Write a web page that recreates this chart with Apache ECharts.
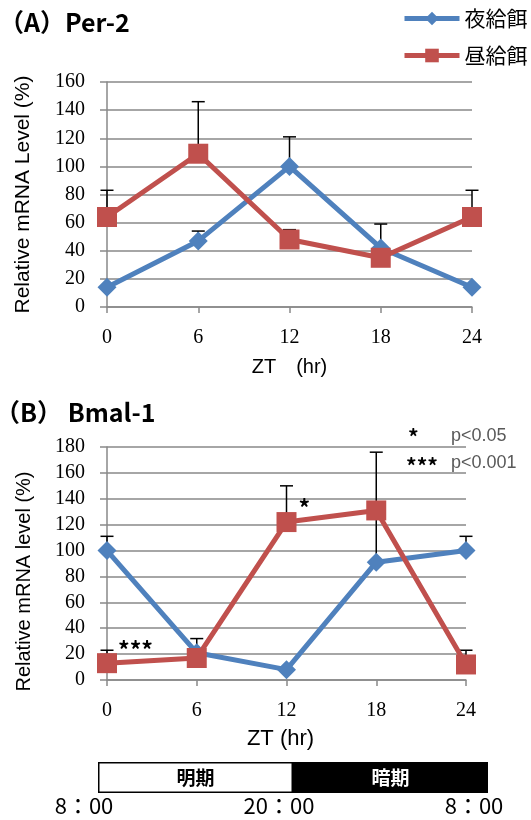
<!DOCTYPE html>
<html>
<head>
<meta charset="utf-8">
<script src="https://cdn.jsdelivr.net/npm/echarts@6/dist/echarts.min.js"></script>
<style>
html,body{margin:0;padding:0;background:#fff;}
#chart{width:531px;height:820px;}
</style>
</head>
<body>
<div id="chart"></div>
<script>
// ---- data ----
const ztHours = [0, 6, 12, 18, 24];
const seriesNames = ['夜給餌', '昼給餌'];
// (A) Per-2
const per2Night = [14, 47, 100, 42, 14];
const per2Day = [64, 109, 48, 35, 64];
const per2NightErr = [0, 7, 21, 17, 0];
const per2DayErr = [19, 37, 7, 0, 19];
// (B) Bmal-1
const bmalNight = [100, 21, 8, 91, 100];
const bmalDay = [13, 17, 122, 131, 12];
const bmalNightErr = [11, 11, 0, 40, 11];
const bmalDayErr = [10, 0, 28, 45, 11];
const bmalDaySig = ['***', '', '*', '', ''];
// light / dark phases
const phaseNames = ['明期', '暗期'];
const phaseHours = [12, 12];
const timeLabels = ['8：00', '20：00', '8：00'];
const yTicksA = {min: 0, max: 160, interval: 20};
const yTicksB = {min: 0, max: 180, interval: 20};

const BLUE = '#4F81BD', RED = '#C0504D', GRID = '#898989';
const SERIF = '"Liberation Serif", "DejaVu Serif", serif';
const SANS = '"Liberation Sans", Arial, sans-serif';
const CJK = '"Noto Sans CJK JP", "Noto Sans", sans-serif';

function pairs(vals) { return vals.map((v, i) => [ztHours[i], v]); }
function errData(vals, errs) {
  return vals.map((v, i) => [ztHours[i], v, v + errs[i]]).filter((d, i) => errs[i] > 0);
}
function errRender(params, api) {
  const x = api.value(0), y = api.value(1), top = api.value(2);
  const p0 = api.coord([x, y]), p1 = api.coord([x, top]);
  const st = {stroke: '#000', lineWidth: 1.5};
  return {type: 'group', children: [
    {type: 'line', shape: {x1: p0[0], y1: p0[1], x2: p1[0], y2: p1[1]}, style: st},
    {type: 'line', shape: {x1: p1[0] - 6.5, y1: p1[1], x2: p1[0] + 6.5, y2: p1[1]}, style: st}
  ]};
}

function xAxisFor(idx, name, gap, fs, pad) {
  return {
    type: 'value', gridIndex: idx, min: 0, max: 24, interval: 6,
    name: name, nameLocation: 'middle', nameGap: gap,
    nameTextStyle: {fontFamily: SANS, fontSize: fs, color: '#000', padding: pad},
    axisLine: {show: true, lineStyle: {color: GRID, width: 1.5}},
    axisTick: {show: true, length: 6, lineStyle: {color: GRID, width: 1.5}},
    axisLabel: {fontFamily: SERIF, fontSize: 20, color: '#000', margin: 21},
    splitLine: {show: false}
  };
}
function yAxisFor(idx, ticks, name, fs, pad) {
  return {
    type: 'value', gridIndex: idx, min: ticks.min, max: ticks.max, interval: ticks.interval,
    name: name, nameLocation: 'middle', nameGap: 73, nameRotate: 90,
    nameTextStyle: {fontFamily: SANS, fontSize: fs, color: '#000', padding: pad},
    axisLine: {show: true, lineStyle: {color: GRID, width: 1.5}},
    axisTick: {show: true, length: 7, lineStyle: {color: GRID, width: 1.5}},
    axisLabel: {fontFamily: SERIF, fontSize: 20, color: '#000', margin: 22},
    splitLine: {show: true, lineStyle: {color: GRID, width: 1.5}}
  };
}
function lineSeries(name, data, xi, color, symbol, size, z) {
  return {
    type: 'line', name: name, xAxisIndex: xi, yAxisIndex: xi, data: data,
    symbol: symbol, symbolSize: size, z: z,
    lineStyle: {color: color, width: 5}, itemStyle: {color: color},
    animation: false
  };
}

const bmalDayData = bmalDay.map((v, i) => {
  const item = {value: [ztHours[i], v]};
  if (bmalDaySig[i]) {
    item.label = {show: true, formatter: bmalDaySig[i], position: 'right',
      offset: i === 0 ? [-4, -13] : [-3, -14],
      fontFamily: CJK, fontSize: 23, fontWeight: 'bold', color: '#000'};
  }
  return item;
});

const option = {
  backgroundColor: '#fff',
  animation: false,
  title: [
    {text: '（A）Per-2', left: -1, top: 10, padding: 0,
     textStyle: {fontFamily: CJK, fontSize: 25, fontWeight: 'bold', color: '#000'}},
    {text: '（B） Bmal-1', left: -5, top: 400, padding: 0,
     textStyle: {fontFamily: CJK, fontSize: 25, fontWeight: 'bold', color: '#000'}}
  ],
  legend: {
    data: seriesNames, orient: 'vertical', left: 402, top: 8, padding: 0,
    itemWidth: 55, itemHeight: 17, itemGap: 16,
    lineStyle: {width: 5},
    textStyle: {fontFamily: CJK, fontSize: 21, color: '#000'}
  },
  grid: [
    {left: 107, top: 82, width: 365, height: 225},
    {left: 107, top: 447, width: 359, height: 233},
    {left: 98, top: 762, width: 390, height: 31}
  ],
  xAxis: [
    xAxisFor(0, 'ZT\u3000(hr)', 50, 20, [0, 0, 0, 0]),
    xAxisFor(1, 'ZT (hr)', 48, 22, [0, 12, 0, 0]),
    {type: 'value', gridIndex: 2, min: 0, max: 24, interval: 12,
     axisLine: {show: false}, axisTick: {show: false}, splitLine: {show: false},
     axisLabel: {show: true, showMinLabel: true, showMaxLabel: true, margin: 2,
       fontFamily: CJK, fontSize: 22, color: '#000', padding: [0, 28, 0, 0],
       formatter: v => timeLabels[Math.round(v / 12)]}}
  ],
  yAxis: [
    yAxisFor(0, yTicksA, 'Relative mRNA Level (%)', 21, [0, 0, 0, 0]),
    yAxisFor(1, yTicksB, 'Relative mRNA level (%)', 20, [0, 36, 0, 0]),
    {type: 'category', gridIndex: 2, data: ['phase'], show: false}
  ],
  graphic: [
    {type: 'text', left: 408, top: 427, style: {text: '*', fontFamily: CJK, fontSize: 21, fontWeight: 'bold', fill: '#000'}},
    {type: 'text', left: 451, top: 427, style: {text: 'p<0.05', fontFamily: SANS, fontSize: 18, fill: '#595959'}},
    {type: 'text', left: 406, top: 456, style: {text: '***', fontFamily: CJK, fontSize: 21, fontWeight: 'bold', fill: '#000'}},
    {type: 'text', left: 451, top: 454, style: {text: 'p<0.001', fontFamily: SANS, fontSize: 18, fill: '#595959'}}
  ],
  series: [
    {type: 'custom', name: 'errA1', xAxisIndex: 0, yAxisIndex: 0, renderItem: errRender, data: errData(per2Night, per2NightErr), z: 1, silent: true},
    {type: 'custom', name: 'errA2', xAxisIndex: 0, yAxisIndex: 0, renderItem: errRender, data: errData(per2Day, per2DayErr), z: 1, silent: true},
    {type: 'custom', name: 'errB1', xAxisIndex: 1, yAxisIndex: 1, renderItem: errRender, data: errData(bmalNight, bmalNightErr), z: 1, silent: true},
    {type: 'custom', name: 'errB2', xAxisIndex: 1, yAxisIndex: 1, renderItem: errRender, data: errData(bmalDay, bmalDayErr), z: 1, silent: true},
    lineSeries(seriesNames[0], pairs(per2Night), 0, BLUE, 'diamond', 19, 3),
    lineSeries(seriesNames[1], pairs(per2Day), 0, RED, 'rect', 20, 4),
    lineSeries(seriesNames[0], pairs(bmalNight), 1, BLUE, 'diamond', 19, 3),
    Object.assign(lineSeries(seriesNames[1], [], 1, RED, 'rect', 20, 4), {data: bmalDayData}),
    {type: 'bar', name: phaseNames[0], xAxisIndex: 2, yAxisIndex: 2, stack: 'phase', barWidth: 31,
     data: [phaseHours[0]], itemStyle: {color: '#fff', borderColor: '#000', borderWidth: 1.5},
     label: {show: true, position: 'inside', formatter: phaseNames[0], fontFamily: CJK, fontSize: 19, fontWeight: 'bold', color: '#000'}},
    {type: 'bar', name: phaseNames[1], xAxisIndex: 2, yAxisIndex: 2, stack: 'phase', barWidth: 31,
     data: [phaseHours[1]], itemStyle: {color: '#000', borderColor: '#000', borderWidth: 1.5},
     label: {show: true, position: 'inside', formatter: phaseNames[1], fontFamily: CJK, fontSize: 19, fontWeight: 'bold', color: '#fff'}}
  ]
};
const chart = echarts.init(document.getElementById('chart'), null, {renderer: 'canvas'});
chart.setOption(option);
</script>
</body>
</html>
